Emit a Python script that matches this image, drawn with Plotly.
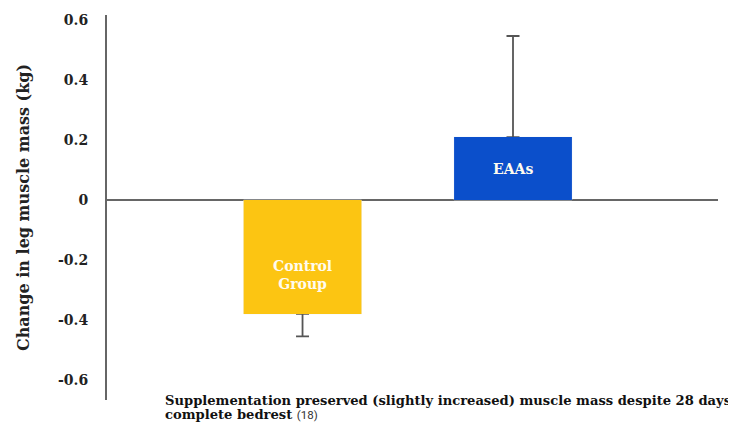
import plotly.graph_objects as go

categories = ["Control Group", "EAAs"]
bar_labels = ["Control<br>Group", "EAAs"]
values = [-0.38, 0.21]
err_plus = [0.0, 0.337]
err_minus = [0.075, 0.0]
colors = ["#FCC512", "#0B4FCB"]
tick_vals = [-0.6, -0.4, -0.2, 0, 0.2, 0.4, 0.6]
tick_text = ["-0.6", "-0.4", "-0.2", "0", "0.2", "0.4", "0.6"]
label_shift = [-18, 0]

serif = "DejaVu Serif"
Y_RANGE = [-0.667, 0.617]
X_RANGE = [-0.929, 1.974]

# page body has an 8px margin; compensate so the plot lands where the reference has it
L, R, T, B = 99, 26, 7, 30
W, H = 736, 422
plot_w = W - L - R
plot_h = H - T - B

fig = go.Figure()
# carrier trace for one-sided error bars (on the base axis, under the bars)
fig.add_trace(go.Bar(
    x=categories, y=values, width=0.56,
    marker=dict(color="rgba(0,0,0,0)"),
    error_y=dict(type="data", symmetric=False, array=err_plus, arrayminus=err_minus,
                 color="#555555", thickness=1.8, width=6.5),
    hoverinfo="skip", showlegend=False, yaxis="y",
))
fig.add_trace(go.Bar(
    x=categories, y=values, width=0.56,
    marker=dict(color=colors, line=dict(width=0)),
    showlegend=False, yaxis="y2",
))

for cat, lab, v, s in zip(categories, bar_labels, values, label_shift):
    fig.add_annotation(
        x=cat, y=v / 2, xref="x", yref="y", yshift=s, showarrow=False,
        text=lab, align="center",
        font=dict(family=serif, size=14, color="#FFFBEF", weight="bold"),
    )

fig.update_layout(
    width=W, height=H,
    barmode="overlay",
    paper_bgcolor="white", plot_bgcolor="white",
    margin=dict(l=L, r=R, t=T, b=B, autoexpand=False),
    xaxis=dict(type="category", range=X_RANGE, showticklabels=False,
               showgrid=False, zeroline=False, showline=False, ticks=""),
    yaxis=dict(range=Y_RANGE, tickvals=tick_vals, ticktext=tick_text, automargin=False,
               showgrid=False, zeroline=True, zerolinecolor="#666666", zerolinewidth=2,
               showline=True, linecolor="#666666", linewidth=2, ticks="",
               ticklabelstandoff=14,
               tickfont=dict(family=serif, size=14, color="#222222", weight="bold"),
               title=dict(text="Change in leg muscle mass (kg)", standoff=24,
                          font=dict(family=serif, size=16, color="#222222", weight="bold"))),
    yaxis2=dict(range=Y_RANGE, overlaying="y", visible=False, showgrid=False,
                zeroline=False, automargin=False),
)

cap_x = (155 - L) / plot_w
fig.add_annotation(
    xref="paper", yref="paper", x=cap_x, y=-1 / plot_h,
    xanchor="left", yanchor="middle", align="left", showarrow=False,
    text="Supplementation preserved (slightly increased) muscle mass despite 28 days",
    font=dict(family=serif, size=13.1, color="#111111", weight="bold"),
)
fig.add_annotation(
    xref="paper", yref="paper", x=cap_x, y=-14 / plot_h,
    xanchor="left", yanchor="middle", align="left", showarrow=False,
    text="complete bedrest <span style='font-family:Roboto;font-weight:normal;font-size:11.5px;color:#333333'>(18)</span>",
    font=dict(family=serif, size=13.1, color="#111111", weight="bold"),
)

fig.write_html("out.html")
